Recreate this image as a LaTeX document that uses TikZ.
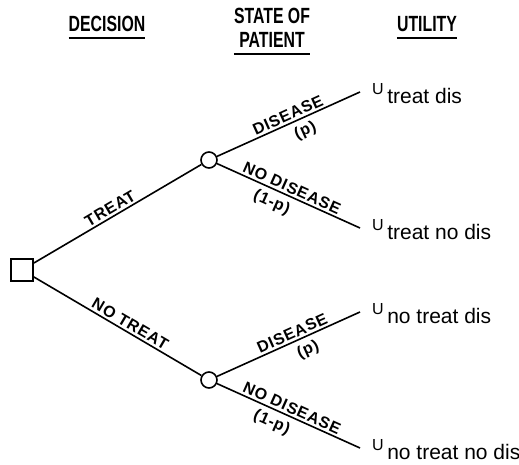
\documentclass[tikz,border=0pt]{standalone}
\usepackage{fontspec}
\setmainfont{Liberation Sans}
\newfontfamily\headfont[FakeStretch=0.72]{Liberation Sans}
\newfontfamily\branchfont[LetterSpace=5]{Liberation Sans}
\usepackage{tikz}
\usetikzlibrary{trees,calc}

\newcommand\utilitylabel[1]{\raisebox{9pt}{\fontsize{16}{16}\selectfont U}\,#1}

\begin{document}
\begin{tikzpicture}[x=1pt,y=1pt]
\tikzset{
	decision node/.style = {rectangle, draw, line width=1.6pt, minimum size=22pt, inner sep=0},
	chance node/.style = {circle, draw, line width=1.6pt, minimum size=16pt, inner sep=0},
	branch/.style = {font=\branchfont\bfseries\fontsize{16}{16}\selectfont, sloped, inner sep=2pt},
	prob/.style = {branch, below, inner sep=5pt},
	utility/.style = {font=\fontsize{21}{21}\selectfont, inner sep=0, anchor=base west},
	header/.style = {font=\headfont\bfseries\fontsize{22}{24}\selectfont, align=center, inner sep=0},
	level 1/.style = {sibling distance=220pt, level distance=187pt},
	level 2/.style = {sibling distance=136pt, level distance=151pt},
	edge from parent/.style = {draw, line width=1.6pt},
}
\useasboundingbox (0,0) rectangle (519,465);

% headers
\node(dec)[header] at (107,441) {DECISION};
\node(state)[header] at (272,437) {STATE OF\\PATIENT};
\node(util)[header] at (427,441) {UTILITY};
\foreach \h in {dec,state,util}
	\draw[line width=1.6pt] ([yshift=-6pt]\h.south west) -- ([yshift=-6pt]\h.south east);

% decision tree
\node(d)[decision node] at (22,195) {}
[grow' = right]
child{node(t)[chance node]{}
	child{coordinate(t-d)
		edge from parent node[branch,above,pos=0.52]{DISEASE} node[prob,pos=0.58]{(p)}}
	child{coordinate(t-n)
		edge from parent node[branch,above,pos=0.5]{NO DISEASE} node[prob,pos=0.42]{(1-p)}}
	edge from parent node[branch,above,pos=0.48]{TREAT}}
child{node(n)[chance node]{}
	child{coordinate(n-d)
		edge from parent node[branch,above,pos=0.55]{DISEASE} node[prob,pos=0.6]{(p)}}
	child{coordinate(n-n)
		edge from parent node[branch,above,pos=0.5]{NO DISEASE} node[prob,pos=0.42]{(1-p)}}
	edge from parent node[branch,above,pos=0.55]{NO TREAT}}
;

\foreach \leaf/\txt in {t-d/treat dis, t-n/treat no dis, n-d/no treat dis, n-n/no treat no dis}
	\node(u-\leaf)[utility] at ($(\leaf)+(12,-12)$) {\utilitylabel{\txt}};

\end{tikzpicture}
\end{document}
